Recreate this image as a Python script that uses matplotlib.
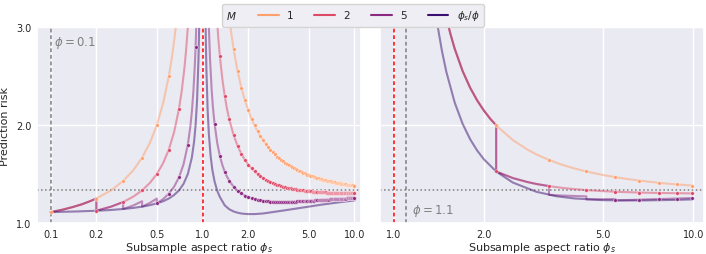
import numpy as np
import matplotlib
matplotlib.use("Agg")
import matplotlib.pyplot as plt
import seaborn as sns
from matplotlib.lines import Line2D
from matplotlib.offsetbox import HPacker
from matplotlib.ticker import NullLocator

sns.set_theme(style="darkgrid")
plt.rcParams.update({
    "font.family": ["DejaVu Sans"],
    "xtick.labelsize": 7,
    "ytick.labelsize": 7,
    "axes.labelsize": 8,
    "xtick.major.size": 0,
    "ytick.major.size": 0,
    "xtick.major.pad": 4.5,
    "ytick.major.pad": 4,
})

pal = sns.color_palette("magma_r", 4)
nan = np.nan
null_risk = 1.333

# ---------------- left panel, phi = 0.1 ----------------
phi_left = 0.1
left_grid = np.round(0.1 * np.arange(1, 101), 1)   # phi_s = phi * j
tail_x = left_grid[15:]                             # 1.6 .. 10.0

left_m1_under = [1.111, 1.25, 1.429, 1.667, 2.0, 2.5]        # 0.1 .. 0.6
left_m2_under = [1.125, 1.214, 1.333, 1.5, 1.75, 2.167]      # 0.2 .. 0.7
left_m5_under = [1.2, 1.3, 1.467, 1.8, 2.8]                  # 0.5 .. 0.9
left_m2_head = [2.704, 2.297, 2.057]                         # 1.3 .. 1.5
left_m5_head = [2.012, 1.685, 1.524, 1.431]                  # 1.2 .. 1.5

left_m1_tail = [2.779, 2.552, 2.383, 2.253, 2.150, 2.066, 1.997, 1.939, 1.889, 1.847,
                1.810, 1.777, 1.749, 1.723, 1.700, 1.679, 1.661, 1.644, 1.628, 1.614,
                1.601, 1.589, 1.578, 1.568, 1.558, 1.549, 1.541, 1.533, 1.526, 1.519,
                1.513, 1.507, 1.501, 1.495, 1.490, 1.485, 1.480, 1.476, 1.472, 1.468,
                1.464, 1.460, 1.457, 1.453, 1.450, 1.447, 1.444, 1.441, 1.438, 1.436,
                1.433, 1.431, 1.428, 1.426, 1.424, 1.422, 1.420, 1.418, 1.416, 1.414,
                1.412, 1.410, 1.409, 1.407, 1.405, 1.404, 1.402, 1.401, 1.399, 1.398,
                1.397, 1.395, 1.394, 1.393, 1.392, 1.390, 1.389, 1.388, 1.387, 1.386,
                1.385, 1.384, 1.383, 1.382, 1.381]
left_m2_tail = [1.899, 1.789, 1.707, 1.645, 1.597, 1.558, 1.526, 1.500, 1.478, 1.459,
                1.443, 1.430, 1.418, 1.407, 1.398, 1.390, 1.383, 1.377, 1.371, 1.366,
                1.361, 1.357, 1.353, 1.349, 1.346, 1.343, 1.341, 1.338, 1.336, 1.334,
                1.332, 1.330, 1.328, 1.327, 1.325, 1.324, 1.323, 1.321, 1.320, 1.319,
                1.318, 1.317, 1.317, 1.316, 1.315, 1.314, 1.314, 1.313, 1.312, 1.312,
                1.311, 1.311, 1.310, 1.310, 1.309, 1.309, 1.308, 1.308, 1.308, 1.307,
                1.307, 1.307, 1.306, 1.306, 1.306, 1.305, 1.305, 1.305, 1.305, 1.305,
                1.304, 1.304, 1.304, 1.304, 1.304, 1.303, 1.303, 1.303, 1.303, 1.303,
                1.302, 1.302, 1.302, 1.302, 1.302]
left_m5_tail = [1.371, 1.330, 1.302, 1.280, 1.265, 1.253, 1.243, 1.236, 1.231, 1.227,
                1.224, 1.221, 1.219, 1.218, 1.217, 1.217, 1.216, 1.216, 1.216, 1.216,
                1.216, 1.217, 1.217, 1.218, 1.219, 1.219, 1.220, 1.221, 1.222, 1.223,
                1.224, 1.225, 1.226, 1.226, 1.227, 1.228, 1.228, 1.229, 1.229, 1.230,
                1.231, 1.232, 1.232, 1.233, 1.234, 1.235, 1.235, 1.236, 1.237, 1.237,
                1.238, 1.239, 1.239, 1.240, 1.241, 1.241, 1.242, 1.243, 1.243, 1.244,
                1.244, 1.245, 1.245, 1.246, 1.246, 1.247, 1.247, 1.248, 1.248, 1.249,
                1.249, 1.250, 1.250, 1.251, 1.251, 1.251, 1.252, 1.252, 1.253, 1.253,
                1.254, 1.254, 1.254, 1.255, 1.255]

# continuous curves (vertical jumps repeat an x value)
l_m1_x = [0.1, 0.12, 0.14, 0.16, 0.18, 0.2, 0.25, 0.3, 0.35, 0.4, 0.45, 0.5, 0.55, 0.6,
          0.63, 0.65, 0.67, 0.7, nan, 1.4, 1.5, 1.52, 1.55]
l_m1_y = [1.111, 1.136, 1.163, 1.190, 1.220, 1.25, 1.333, 1.429, 1.538, 1.667, 1.818, 2.0,
          2.222, 2.5, 2.703, 2.857, 3.030, 3.333, nan, 3.586, 3.1, 3.026, 2.925]
l_m2_x = [0.1, 0.12, 0.14, 0.16, 0.18, 0.2, 0.2, 0.25, 0.3, 0.35, 0.4, 0.45, 0.5, 0.55,
          0.6, 0.65, 0.7, 0.73, 0.76, 0.78, 0.8, 0.82, nan,
          1.24, 1.27, 1.3, 1.35, 1.4, 1.45, 1.5]
l_m2_y = [1.111, 1.136, 1.163, 1.190, 1.220, 1.25, 1.125, 1.167, 1.214, 1.269, 1.333, 1.409,
          1.5, 1.611, 1.75, 1.929, 2.167, 2.352, 2.583, 2.773, 3.0, 3.278, nan,
          3.114, 2.886, 2.704, 2.471, 2.297, 2.163, 2.057]
l_m5_x = [0.1, 0.12, 0.14, 0.16, 0.18, 0.2, 0.2, 0.25, 0.3, 0.3, 0.35, 0.4, 0.4, 0.45,
          0.5, 0.5, 0.55, 0.6, 0.65, 0.7, 0.75, 0.8, 0.83, 0.85, 0.87, 0.89, 0.9, 0.91, nan,
          1.09, 1.1, 1.12, 1.15, 1.17, 1.2, 1.25, 1.3, 1.35, 1.4, 1.45, 1.5]
l_m5_y = [1.111, 1.136, 1.163, 1.190, 1.220, 1.25, 1.125, 1.167, 1.214, 1.143, 1.179, 1.222,
          1.167, 1.205, 1.25, 1.2, 1.244, 1.3, 1.371, 1.467, 1.6, 1.8, 1.976, 2.133, 2.338,
          2.618, 2.8, 3.022, nan,
          3.23, 3.006, 2.674, 2.342, 2.185, 2.012, 1.815, 1.685, 1.592, 1.524, 1.472, 1.431]
l_dk_x = [0.1, 0.15, 0.2, 0.25, 0.3, 0.35, 0.4, 0.45, 0.5, 0.55, 0.6, 0.65, 0.7, 0.75, 0.8,
          0.85, 0.88, 0.9, 0.92, 0.94, 0.95, 0.96, nan,
          1.04, 1.05, 1.06, 1.08, 1.1, 1.13, 1.16, 1.2, 1.25, 1.3, 1.4, 1.5, 1.6, 1.7, 1.8,
          1.9, 2.0, 2.2, 2.5, 3.0, 3.5, 4.0, 5.0, 6.0, 7.0, 8.0, 9.0, 10.0]
l_dk_y = [1.111, 1.118, 1.125, 1.133, 1.143, 1.154, 1.167, 1.182, 1.2, 1.222, 1.25, 1.286,
          1.333, 1.4, 1.5, 1.667, 1.833, 2.0, 2.25, 2.667, 3.0, 3.5, nan,
          3.405, 2.906, 2.574, 2.159, 1.912, 1.684, 1.543, 1.423, 1.328, 1.266, 1.18, 1.14,
          1.118, 1.105, 1.097, 1.093, 1.091, 1.091, 1.097, 1.115, 1.13, 1.144, 1.167, 1.186,
          1.2, 1.212, 1.222, 1.23]

# ---------------- right panel, phi = 1.1 ----------------
phi_right = 1.1
right_grid = [2.2, 3.3, 4.4, 5.5, 6.6, 7.7, 8.8, 9.9]
right_m1 = [1.997, 1.644, 1.526, 1.468, 1.433, 1.410, 1.394, 1.382]
right_m2 = [1.526, 1.377, 1.336, 1.319, 1.311, 1.307, 1.304, 1.302]
right_m5 = [1.230, 1.238, 1.245, 1.250, 1.255]               # 5.5 .. 9.9

r_head_x = [1.45, 1.5, 1.52, 1.55, 1.6, 1.7, 1.8, 1.9, 2.0, 2.1, 2.2]
r_head_y = [3.315, 3.1, 3.026, 2.925, 2.779, 2.552, 2.383, 2.253, 2.15, 2.066, 1.997]
r_m1_x = [2.5, 2.8, 3.0, 3.3, 3.6, 4.0, 4.4, 5.0, 5.5, 6.0, 6.6, 7.0, 7.7, 8.0, 8.8, 9.0, 9.9]
r_m1_y = [1.847, 1.749, 1.70, 1.644, 1.601, 1.558, 1.526, 1.49, 1.468, 1.45, 1.433, 1.424,
          1.41, 1.405, 1.394, 1.392, 1.382]
r_m2_x = [2.2, 2.5, 2.8, 3.0, 3.3, 3.6, 4.0, 4.4, 5.0, 5.5, 6.0, 6.6, 7.0, 7.7, 8.0, 8.8,
          9.0, 9.9]
r_m2_y = [1.526, 1.459, 1.418, 1.398, 1.377, 1.361, 1.346, 1.336, 1.325, 1.319, 1.315,
          1.311, 1.309, 1.307, 1.306, 1.304, 1.304, 1.302]
r_m5_x = [2.2, 2.5, 2.8, 3.0, 3.3, 3.3, 3.6, 4.0, 4.4, 4.4, 5.0, 5.5, 5.5, 6.0, 6.6, 7.0,
          7.7, 8.0, 8.8, 9.0, 9.9]
r_m5_y = [1.526, 1.459, 1.418, 1.398, 1.377, 1.287, 1.281, 1.276, 1.272, 1.241, 1.243,
          1.245, 1.230, 1.234, 1.238, 1.241, 1.245, 1.246, 1.25, 1.251, 1.255]
r_dk_x = [1.38, 1.4, 1.45, 1.5, 1.6, 1.7, 1.8, 1.9, 2.0, 2.2, 2.5, 3.0, 3.5, 4.0, 5.0, 6.0,
          7.0, 8.0, 9.0, 9.9]
r_dk_y = [3.165, 3.03, 2.759, 2.544, 2.229, 2.013, 1.857, 1.741, 1.652, 1.526, 1.413, 1.318,
          1.273, 1.251, 1.233, 1.23, 1.231, 1.234, 1.237, 1.241]

legend_labels = ["1", "2", "5", r"$\phi_s/\phi$"]

# ---------------- drawing ----------------
fig = plt.figure(figsize=(7.06, 2.55), dpi=100)
ax1 = fig.add_axes([0.052, 0.1216, 0.459, 0.768])
ax2 = fig.add_axes([0.538, 0.1216, 0.459, 0.768], sharey=ax1)

left_lines = [
    (l_m1_x + list(tail_x), l_m1_y + left_m1_tail),
    (l_m2_x + list(tail_x), l_m2_y + left_m2_tail),
    (l_m5_x + list(tail_x), l_m5_y + left_m5_tail),
    (l_dk_x, l_dk_y),
]
left_dots = [
    (list(left_grid[:6]) + list(tail_x), left_m1_under + left_m1_tail),
    (list(left_grid[1:7]) + list(left_grid[12:15]) + list(tail_x),
     left_m2_under + left_m2_head + left_m2_tail),
    (list(left_grid[4:9]) + list(left_grid[11:15]) + list(tail_x),
     left_m5_under + left_m5_head + left_m5_tail),
]
right_lines = [
    (r_head_x + r_m1_x, r_head_y + r_m1_y),
    (r_head_x + r_m2_x, r_head_y + r_m2_y),
    (r_head_x + r_m5_x, r_head_y + r_m5_y),
    (r_dk_x, r_dk_y),
]
right_dots = [
    (right_grid, right_m1),
    (right_grid, right_m2),
    (right_grid[3:], right_m5),
]


def draw(ax, lines, dots):
    for (xs, ys), c in zip(lines, pal):
        ax.plot(xs, ys, color=c, alpha=0.5, lw=1.5, zorder=2)
    for (xs, ys), c in zip(dots, pal):
        ax.scatter(xs, ys, s=7, color=c, edgecolor="white", linewidth=0.3, zorder=3)


draw(ax1, left_lines, left_dots)
draw(ax2, right_lines, right_dots)

dash = (0, (2.5, 1.8))
ax1.axvline(phi_left, color="gray", ls=dash, lw=1.1, zorder=1.5)
ax1.axvline(1.0, color="red", ls=dash, lw=1.1, zorder=1.5)
ax1.axhline(null_risk, color="gray", ls=":", lw=1.1, zorder=1.5)
ax2.axvline(1.0, color="red", ls=dash, lw=1.1, zorder=1.5)
ax2.axvline(phi_right, color="gray", ls=dash, lw=1.1, zorder=1.5)
ax2.axhline(null_risk, color="gray", ls=":", lw=1.1, zorder=1.5)

ax1.text(0.105, 2.85, r"$\phi = 0.1$", color="gray", fontsize=8.5, va="center")
ax2.text(1.148, 1.13, r"$\phi = 1.1$", color="gray", fontsize=8.5, va="center")

for ax, ticks, lims in [(ax1, [0.1, 0.2, 0.5, 1, 2, 5, 10], (0.081, 11.0)),
                        (ax2, [1, 2, 5, 10], (0.9, 10.85))]:
    ax.set_xscale("log")
    ax.set_xticks(ticks)
    ax.set_xticklabels([f"{t:.1f}" for t in ticks])
    ax.xaxis.set_minor_locator(NullLocator())
    ax.set_xlim(*lims)
    ax.set_xlabel(r"Subsample aspect ratio $\phi_s$", labelpad=0.5)

ax1.set_ylim(1, 3)
ax1.set_yticks([1, 2, 3])
ax1.set_yticklabels(["1.0", "2.0", "3.0"])
ax1.set_ylabel("Prediction risk", labelpad=4)
ax2.tick_params(axis="y", labelleft=False)

handles = [Line2D([], [], color=c, lw=1.5) for c in pal]
leg = fig.legend(handles, legend_labels, loc="upper center", bbox_to_anchor=(0.5, 1.0),
                 ncol=4, fontsize=7.5, title="$M$", title_fontsize=7.5, columnspacing=2.0,
                 handlelength=2.0, handletextpad=0.8, borderpad=0.4)
# put the legend title on the left of the entries
fs = leg._fontsize
box = HPacker(pad=leg.borderpad * fs, sep=leg.columnspacing * fs, align="center",
              children=[leg._legend_title_box, leg._legend_handle_box])
box.set_figure(fig)
box.axes = leg.axes
leg._legend_box = box
box.set_offset(leg._findoffset)

fig.savefig("out.png", dpi=100)
